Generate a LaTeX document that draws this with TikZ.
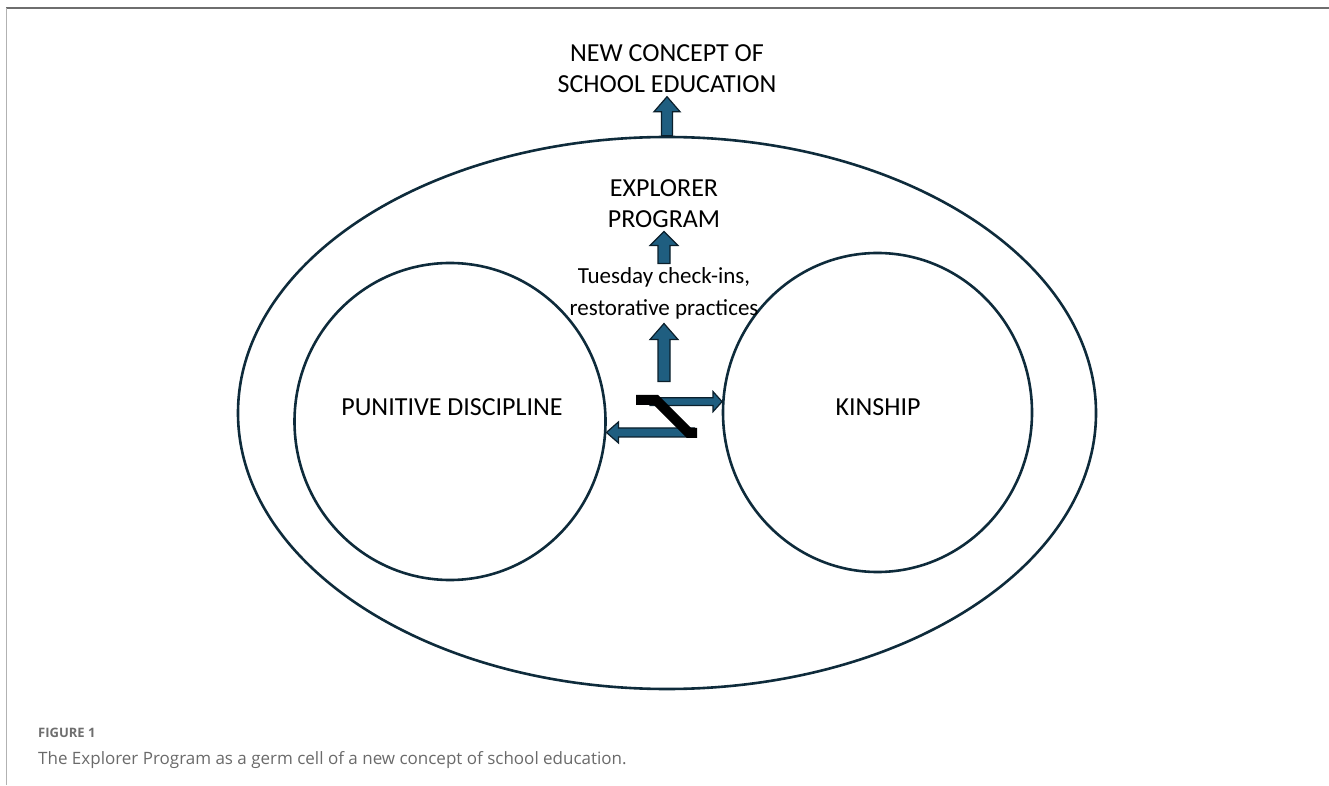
\documentclass[tikz,border=0pt]{standalone}
\usepackage{fontspec}
\setmainfont{Carlito}
\newfontfamily\capfont{Open Sans}
\usetikzlibrary{shapes.geometric, positioning, calc}
\definecolor{ringcol}{HTML}{0E2B3B}
\definecolor{arrowblue}{HTML}{1F5E80}
\definecolor{arrowline}{HTML}{0B1F2B}
\definecolor{framegray}{HTML}{6E6E6E}
\definecolor{capgray}{HTML}{6A6A6A}
\newcommand{\fatarrow}[5]{%
    \coordinate (fa) at ($(#2)!#5!(#1)$);
    \draw [fat] ($(#1)!#3!-90:(#2)$) -- ($(fa)!#3!-90:(#2)$) -- ($(fa)!#4!-90:(#2)$) -- (#2)
        -- ($(fa)!#4!90:(#2)$) -- ($(fa)!#3!90:(#2)$) -- ($(#1)!#3!90:(#2)$) -- cycle;
}

\begin{document}
\begin{tikzpicture}[x = 1pt, y = 1pt,
        ring/.style = {draw = ringcol, line width = 2.6pt, ellipse, inner sep = 0pt},
        lbl/.style = {font = \fontsize{26}{31}\selectfont, align = center, inner sep = 4pt},
        fat/.style = {fill = arrowblue, draw = arrowline, line width = 1.2pt, line join = miter},
        zig/.style = {draw = black, line width = 10pt, line join = miter}]
        \useasboundingbox (0, 0) rectangle (1329, 785);
        \draw [framegray, line width = 1.8pt] (6, 777) -- (1329, 777);
        \draw [gray!60, line width = 1.8pt] (6.5, 777) -- (6.5, 0);

        \node [ring, minimum width = 858pt, minimum height = 552pt] (outer) at (667, 372) {};
        \node [ring, minimum width = 311pt, minimum height = 317pt] (pun) at (450, 363.5) {};
        \node [ring, minimum width = 309pt, minimum height = 319pt] (kin) at (877.5, 372.5) {};
        \node [lbl] (punt) at (452, 378) {PUNITIVE DISCIPLINE};
        \node [lbl] (kint) at (878, 378) {KINSHIP};

        \node [lbl, above = 39pt of outer.north] (newc) {NEW CONCEPT OF\\SCHOOL EDUCATION};
        \node [lbl, font = \fontsize{23}{32}\selectfont] (tues) at (664, 491.5) {Tuesday check-ins,\\restorative practices};
        \node [lbl, above = 32pt of tues] (expl) {EXPLORER\\PROGRAM};
        \coordinate [below = 58pt of tues] (zt);
        \coordinate (zr) at ($(kin.176) + (-72, 0)$);
        \coordinate (zl) at ($(pun.-4) + (88, 0)$);

        \fatarrow{zr}{kin.176}{3.8pt}{10pt}{9pt}
        \fatarrow{zl}{pun.-4}{4.5pt}{10.5pt}{12pt}
        \fatarrow{zt}{tues.south}{6pt}{14pt}{16pt}
        \fatarrow{tues.north}{expl.south}{6pt}{14pt}{14pt}
        \fatarrow{outer.north}{newc.south}{5.5pt}{13pt}{15pt}
        \draw [zig] (636, 385) -- (656, 385) -- (689, 352) -- (697, 352);

        \node [font = \capfont\bfseries\fontsize{13}{15}\selectfont, text = framegray, anchor = west, inner sep = 0pt] (fig) at (38, 52) {FIGURE 1};
        \node [font = \capfont\fontsize{17}{20}\selectfont, text = capgray, anchor = west, inner sep = 0pt] (cap) at (38, 25) {The Explorer Program as a germ cell of a new concept of school education.};
    \end{tikzpicture}
\end{document}
